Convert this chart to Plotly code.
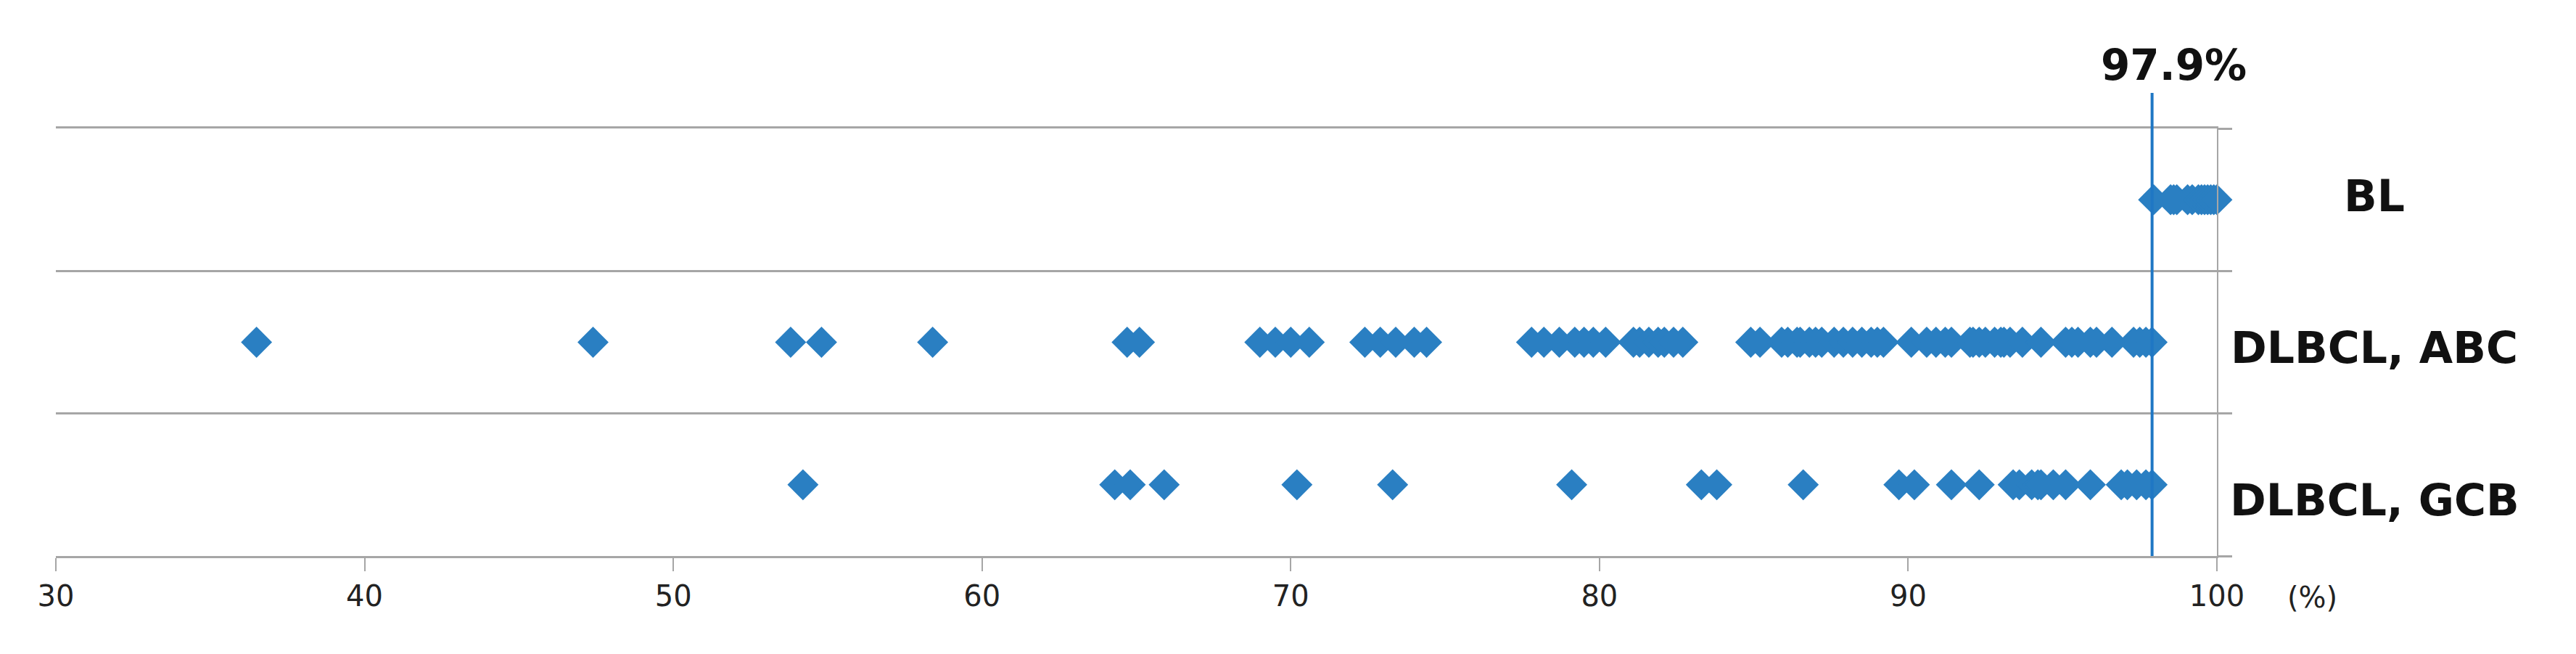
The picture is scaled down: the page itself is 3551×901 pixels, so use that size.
import plotly.graph_objects as go

# categories, top to bottom as drawn
categories = ["BL", "DLBCL, ABC", "DLBCL, GCB"]

bl = [97.95, 98.5, 98.6, 98.7, 99.05, 99.2, 99.4, 99.5, 99.6, 99.7, 99.8, 99.9, 100.0]

dlbcl_abc = [36.5, 47.4, 53.8, 54.8, 58.4, 64.7, 65.1, 69.0, 69.5, 70.0, 70.6,
             72.4, 72.9, 73.4, 74.0, 74.4, 77.8, 78.2, 78.7, 79.2, 79.5, 79.8,
             80.2, 81.1, 81.3, 81.6, 81.9, 82.1, 82.4, 82.7, 84.9, 85.2, 85.9,
             86.1, 86.4, 86.5, 86.8, 87.0, 87.2, 87.6, 87.9, 88.2, 88.5, 88.8,
             89.0, 89.2, 90.1, 90.6, 90.9, 91.2, 91.4, 92.0, 92.1, 92.3, 92.5,
             92.8, 93.0, 93.1, 93.3, 93.7, 94.3, 95.1, 95.3, 95.5, 95.9, 96.1,
             96.6, 97.3, 97.5, 97.7, 97.9]

dlbcl_gcb = [54.2, 64.3, 64.8, 65.9, 70.2, 73.3, 79.1, 83.3, 83.8, 86.6, 89.7,
             90.2, 91.4, 92.3, 93.4, 93.6, 94.0, 94.2, 94.3, 94.7, 95.1, 95.9,
             96.9, 97.1, 97.4, 97.7, 97.9]

series = {"BL": bl, "DLBCL, ABC": dlbcl_abc, "DLBCL, GCB": dlbcl_gcb}

threshold = 97.9
x_ticks = [30, 40, 50, 60, 70, 80, 90, 100]

marker_color = "#2A7FC2"
line_color = "#1F77C4"
grid_color = "#A6A6A6"

fig = go.Figure()

for cat in categories:
    vals = series[cat]
    fig.add_trace(go.Scatter(
        x=vals, y=[cat] * len(vals),
        mode="markers", cliponaxis=False,
        marker=dict(symbol="diamond", size=33, color=marker_color, line=dict(width=0)),
        showlegend=False,
    ))

# threshold line
fig.add_shape(type="line", x0=threshold, x1=threshold, xref="x",
              y0=0, y1=1.083, yref="paper",
              line=dict(color=line_color, width=4))

fig.add_annotation(x=threshold, xref="x", y=1.148, yref="paper",
                   text=f"<b>{threshold}%</b>", showarrow=False, xshift=30,
                   xanchor="center", yanchor="middle",
                   font=dict(family="DejaVu Sans", size=58, color="#111111"))

# category labels on the right
label_shift = {"BL": 5, "DLBCL, ABC": -7, "DLBCL, GCB": -21}
for cat in categories:
    fig.add_annotation(x=1.073, xref="paper", y=cat, yref="y",
                       text=f"<b>{cat}</b>", showarrow=False,
                       xanchor="center", yanchor="middle",
                       yshift=label_shift[cat],
                       font=dict(family="DejaVu Sans", size=60, color="#111111"))

fig.add_annotation(x=1.0443, xref="paper", y=-0.097, yref="paper",
                   text="(%)", showarrow=False,
                   xanchor="center", yanchor="middle",
                   font=dict(family="DejaVu Sans", size=40, color="#222222"))

fig.update_xaxes(
    range=[30, 100], tickvals=x_ticks, ticktext=[str(t) for t in x_ticks],
    showgrid=False, zeroline=False,
    showline=True, mirror=True, linecolor=grid_color, linewidth=3,
    ticks="outside", ticklen=18, tickwidth=2, tickcolor=grid_color,
    tickfont=dict(family="DejaVu Sans", size=40, color="#222222"),
)
fig.update_yaxes(
    type="category", categoryorder="array", categoryarray=categories[::-1],
    range=[-0.5, 2.5], tickson="boundaries",
    side="right", showticklabels=False,
    showgrid=True, gridcolor=grid_color, gridwidth=3,
    showline=True, linecolor=grid_color, linewidth=2,
    ticks="outside", ticklen=19, tickwidth=3, tickcolor=grid_color,
    zeroline=False,
)

# page body adds an 8px margin, so the figure is 8px smaller and shifted
fig.update_layout(
    width=3543, height=893,
    margin=dict(l=69, r=495, t=169, b=135),
    plot_bgcolor="white", paper_bgcolor="white",
)

fig.write_html("out.html")
